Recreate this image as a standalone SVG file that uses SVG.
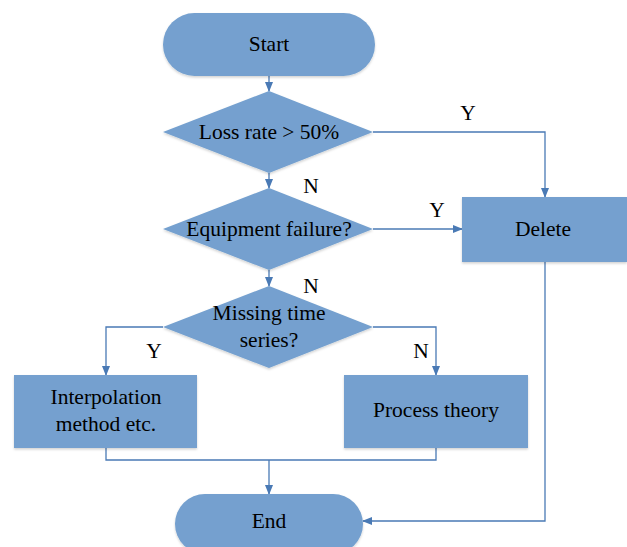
<svg xmlns="http://www.w3.org/2000/svg" width="627" height="547" viewBox="0 0 627 547">
<defs>
<marker id="ah" markerWidth="10" markerHeight="8" refX="9" refY="4" orient="auto" markerUnits="userSpaceOnUse">
<path d="M0,0 L10,4 L0,8 Z" fill="#4a7ab5"/>
</marker>
<filter id="sh" x="-10%" y="-10%" width="120%" height="130%">
<feDropShadow dx="0" dy="1.5" stdDeviation="1.2" flood-color="#000" flood-opacity="0.18"/>
</filter>
</defs>
<style>
.n{fill:#74a0cf;filter:url(#sh)}
.t{font-family:'Liberation Serif','DejaVu Serif',serif;font-size:21.5px;fill:#000;text-anchor:middle}
.c{fill:none;stroke:#4a7ab5;stroke-width:1.3}
</style>
<rect width="627" height="547" fill="#fff"/>
<g id="connectors">
<path class="c" d="M269,76 V91" marker-end="url(#ah)"/>
<path class="c" d="M373,132 H545 V197" marker-end="url(#ah)"/>
<path class="c" d="M269,173 V188" marker-end="url(#ah)"/>
<path class="c" d="M373,229 H462" marker-end="url(#ah)"/>
<path class="c" d="M269,270 V286" marker-end="url(#ah)"/>
<path class="c" d="M163,327 H106 V375" marker-end="url(#ah)"/>
<path class="c" d="M373,327 H436 V375" marker-end="url(#ah)"/>
<path class="c" d="M106,448 V460 H436 V448"/>
<path class="c" d="M269,460 V494" marker-end="url(#ah)"/>
<path class="c" d="M545,262 V521 H363" marker-end="url(#ah)"/>
<text class="t" x="468" y="120">Y</text>
<text class="t" x="311" y="193">N</text>
<text class="t" x="437" y="217">Y</text>
<text class="t" x="311" y="293">N</text>
<text class="t" x="154" y="358">Y</text>
<text class="t" x="421" y="358">N</text>
</g>
<g id="start">
<rect class="n" x="163" y="13" width="212" height="63" rx="31.5"/>
<text class="t" x="269" y="51">Start</text>
</g>
<g id="loss">
<polygon class="n" points="269,91 373,132 269,173 163,132"/>
<text class="t" x="269" y="139">Loss rate &gt; 50%</text>
</g>
<g id="equip">
<polygon class="n" points="269,188 373,229 269,270 163,229"/>
<text class="t" x="269" y="236">Equipment failure?</text>
</g>
<g id="missing">
<polygon class="n" points="269,286 373,327 269,368 163,327"/>
<text class="t" x="269" y="320">Missing time</text>
<text class="t" x="269" y="347">series?</text>
</g>
<g id="delete">
<rect class="n" x="462" y="197" width="165" height="65"/>
<text class="t" x="543" y="236">Delete</text>
</g>
<g id="interp">
<rect class="n" x="14" y="375" width="183" height="73"/>
<text class="t" x="106" y="404">Interpolation</text>
<text class="t" x="106" y="431">method etc.</text>
</g>
<g id="process">
<rect class="n" x="344" y="375" width="184" height="73"/>
<text class="t" x="436" y="417">Process theory</text>
</g>
<g id="end">
<rect class="n" x="175" y="494" width="188" height="60" rx="30"/>
<text class="t" x="269" y="528">End</text>
</g>
</svg>
